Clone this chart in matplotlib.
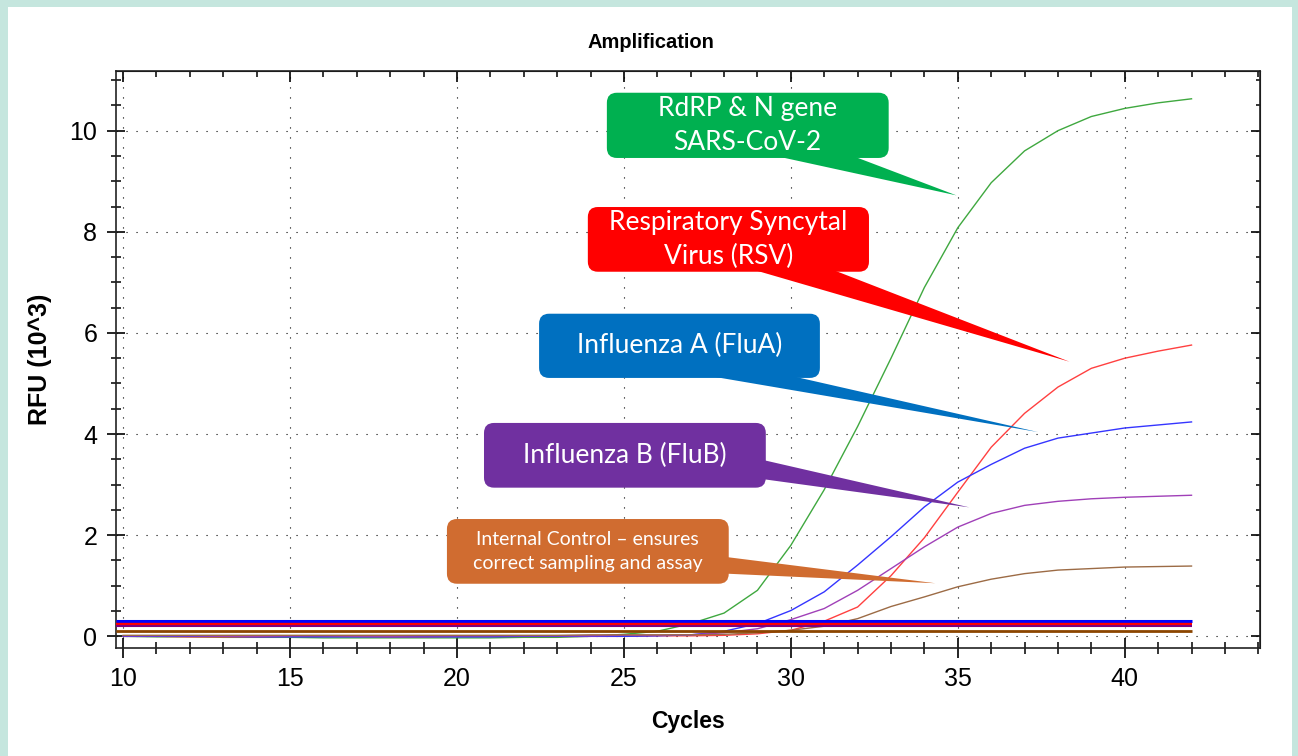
import matplotlib
matplotlib.use('Agg')
import matplotlib.pyplot as plt
from matplotlib.patches import FancyBboxPatch, Polygon, Rectangle
from matplotlib.ticker import MultipleLocator

plt.rcParams['font.family'] = ['Liberation Sans', 'DejaVu Sans']

# cycles 10..42, RFU in 10^3
cycles = list(range(10, 43))
sars_cov2 = [0.00, -0.01, -0.01, -0.02, -0.02, -0.02, -0.03, -0.03, -0.03, -0.03, -0.03,
             -0.03, -0.02, -0.02, 0.00, 0.04, 0.10, 0.25, 0.46, 0.91, 1.80, 2.90,
             4.15, 5.50, 6.90, 8.08, 8.97, 9.60, 10.00, 10.28, 10.44, 10.55, 10.63]
flu_a = [0.00, 0.00, 0.00, 0.00, -0.01, -0.01, -0.01, -0.01, -0.01, -0.01, -0.01,
         -0.01, 0.00, 0.00, 0.00, 0.00, 0.01, 0.03, 0.10, 0.25, 0.51, 0.88,
         1.41, 1.97, 2.56, 3.05, 3.40, 3.72, 3.92, 4.02, 4.12, 4.18, 4.24]
rsv = [0.00, 0.00, -0.01, -0.01, -0.01, 0.00, 0.00, 0.00, -0.01, -0.01, 0.00,
       0.00, 0.00, 0.00, 0.00, 0.00, 0.01, 0.01, 0.02, 0.05, 0.12, 0.30,
       0.58, 1.20, 1.95, 2.85, 3.74, 4.41, 4.93, 5.30, 5.50, 5.64, 5.76]
flu_b = [0.01, 0.01, 0.01, 0.00, 0.00, 0.01, 0.01, 0.00, 0.00, 0.01, 0.01,
         0.01, 0.01, 0.01, 0.01, 0.02, 0.02, 0.03, 0.07, 0.15, 0.33, 0.55,
         0.91, 1.34, 1.77, 2.16, 2.43, 2.59, 2.67, 2.72, 2.75, 2.77, 2.79]
internal_ctrl = [0.02, 0.02, 0.02, 0.02, 0.02, 0.02, 0.02, 0.02, 0.02, 0.02, 0.02,
                 0.02, 0.02, 0.02, 0.03, 0.03, 0.03, 0.03, 0.04, 0.07, 0.12, 0.20,
                 0.35, 0.59, 0.78, 0.98, 1.13, 1.24, 1.31, 1.34, 1.37, 1.38, 1.39]

# threshold lines: FluA, RSV, FluB, IC
thresholds = [0.30, 0.24, 0.20, 0.11]
thresh_end = 42

fig = plt.figure(figsize=(12.98, 7.56), dpi=100, facecolor='#c5e6de')
fig.patches.append(Rectangle((8 / 1298, 0), 1284 / 1298, 1 - 7 / 756,
                             transform=fig.transFigure, facecolor='white',
                             edgecolor='none', zorder=-1))

ax = fig.add_axes([0.0894, 0.1429, 0.8813, 0.7632])
ax.set_xlim(9.79, 44.05)
ax.set_ylim(-0.23, 11.18)

# amplification curves
ax.plot(cycles, sars_cov2, color='#3fa83f', lw=1.0, zorder=2)
ax.plot(cycles, rsv, color='#ff4040', lw=1.0, zorder=2)
ax.plot(cycles, flu_a, color='#3535ff', lw=1.0, zorder=2)
ax.plot(cycles, flu_b, color='#a040b8', lw=1.0, zorder=2)
ax.plot(cycles, internal_ctrl, color='#9c6b45', lw=1.0, zorder=2)

# thresholds
x0 = ax.get_xlim()[0]
thresh_cols = ['#0000ff', '#ff0000', '#800080', '#8b4500']
thresh_lw = [2.2, 1.7, 1.5, 2.0]
for t, c, w in zip(thresholds, thresh_cols, thresh_lw):
    ax.hlines(t, x0, thresh_end, colors=c, lw=w, zorder=3)

# axes styling
ax.xaxis.set_major_locator(MultipleLocator(5))
ax.xaxis.set_minor_locator(MultipleLocator(1))
ax.yaxis.set_major_locator(MultipleLocator(2))
ax.yaxis.set_minor_locator(MultipleLocator(0.5))
ax.grid(True, which='major', color='black', linestyle=(0, (1, 8)), linewidth=0.8)
for s in ax.spines.values():
    s.set_linewidth(1.2)
    s.set_color('#222222')
ax.tick_params(axis='x', which='major', direction='inout', length=15, width=1.2,
               labelsize=18, pad=6, top=False)
ax.tick_params(axis='x', which='minor', direction='inout', length=8, width=1.1, top=False)
ax.tick_params(axis='y', which='major', direction='inout', length=13, width=1.2,
               labelsize=18, pad=7, right=False)
ax.tick_params(axis='y', which='minor', direction='inout', length=6.5, width=1.1, right=False)

top = ax.secondary_xaxis('top')
top.xaxis.set_major_locator(MultipleLocator(5))
top.xaxis.set_minor_locator(MultipleLocator(1))
top.tick_params(which='major', direction='in', length=8, width=1.2, labeltop=False)
top.tick_params(which='minor', direction='in', length=4.5, width=1.1)
right = ax.secondary_yaxis('right')
right.yaxis.set_major_locator(MultipleLocator(2))
right.yaxis.set_minor_locator(MultipleLocator(0.5))
right.tick_params(which='major', direction='in', length=6.5, width=1.2, labelright=False)
right.tick_params(which='minor', direction='in', length=3.2, width=1.1)

ax.set_xlabel('Cycles', fontsize=16.5, fontweight='bold')
ax.set_ylabel('RFU (10^3)', fontsize=18, fontweight='bold')
ax.xaxis.set_label_coords(0.5, -0.108)
ax.yaxis.set_label_coords(-0.056, 0.5)
fig.text(0.5015, 1 - 48 / 756, 'Amplification', ha='center', va='baseline',
         fontsize=14.5, fontweight='bold')

# callouts
p0 = ax.transData.transform((0, 0))
p1 = ax.transData.transform((1, 1))
asp = (p1[0] - p0[0]) / (p1[1] - p0[1])

callouts = [
    dict(text='RdRP & N gene\nSARS-CoV-2', color='#00b050', box=(24.49, 32.93, 9.46, 10.75),
         base=[(29.40, 9.52), (31.77, 9.52)], tip=(34.96, 8.72), size=19, ls=1.45),
    dict(text='Respiratory Syncytal\nVirus (RSV)', color='#ff0000', box=(23.92, 32.34, 7.21, 8.49),
         base=[(28.77, 7.27), (31.17, 7.27)], tip=(38.35, 5.43), size=19, ls=1.45),
    dict(text='Influenza A (FluA)', color='#0070c0', box=(22.46, 30.87, 5.11, 6.38),
         base=[(27.37, 5.17), (29.88, 5.17)], tip=(37.40, 4.04), size=19, ls=1.3),
    dict(text='Influenza B (FluB)', color='#7030a0', box=(20.81, 29.25, 2.94, 4.22),
         base=[(29.15, 3.49), (29.15, 3.11)], tip=(35.35, 2.55), size=19, ls=1.3),
    dict(text='Internal Control \u2013 ensures\ncorrect sampling and assay', color='#d06c30',
         box=(19.70, 28.14, 1.04, 2.32),
         base=[(28.05, 1.57), (28.05, 1.24)], tip=(34.33, 1.05), size=14, ls=1.5),
]
for c in callouts:
    bx0, bx1, by0, by1 = c['box']
    ax.add_patch(Polygon(c['base'] + [c['tip']], closed=True, facecolor=c['color'],
                         edgecolor='none', zorder=5))
    ax.add_patch(FancyBboxPatch((bx0, by0), bx1 - bx0, by1 - by0,
                                boxstyle='round,pad=0,rounding_size=0.3',
                                mutation_aspect=asp, facecolor=c['color'],
                                edgecolor='none', zorder=6))
    ax.text((bx0 + bx1) / 2, (by0 + by1) / 2, c['text'], ha='center', va='center',
            color='white', fontsize=c['size'], family=['Lato', 'DejaVu Sans'],
            linespacing=c['ls'], zorder=7)

fig.savefig('out.png', dpi=100, facecolor=fig.get_facecolor())
